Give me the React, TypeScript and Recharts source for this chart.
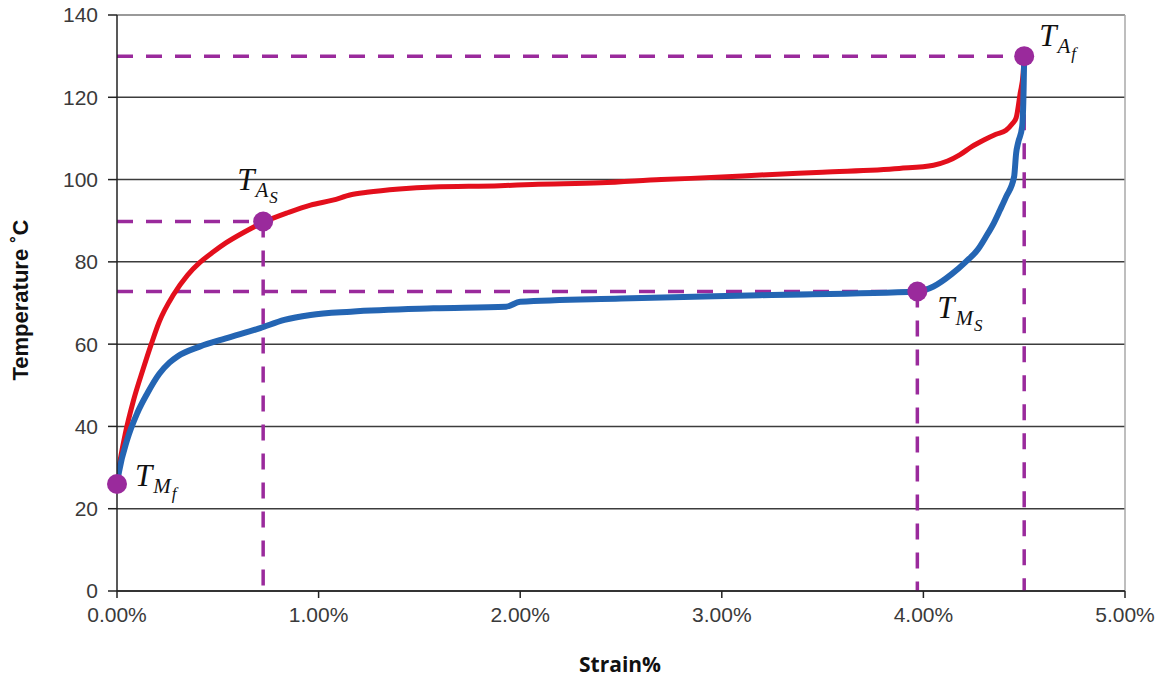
import React from 'react';
import {
  ComposedChart,
  Line,
  XAxis,
  YAxis,
  CartesianGrid,
  ReferenceLine,
  ReferenceDot,
} from 'recharts';

// Heating branch (austenite transformation), strain % vs temperature
const heatStrain = [
  0.0, 0.02, 0.04, 0.08, 0.13, 0.17, 0.21, 0.28, 0.35, 0.41, 0.48, 0.54, 0.63, 0.725, 0.85, 0.96, 1.07,
  1.16, 1.24, 1.4, 1.57, 1.9, 2.06, 2.4, 2.7, 3.0, 3.19, 3.5, 3.88, 4.05, 4.12, 4.18, 4.24, 4.3, 4.36,
  4.41, 4.44, 4.46, 4.48, 4.495, 4.5,
];
const heatTemp = [
  27, 33, 38, 46, 54, 60, 65.5, 72, 76.8, 79.8, 82.5, 84.6, 87.2, 89.6, 92, 93.8, 95,
  96.3, 96.9, 97.7, 98.2, 98.5, 98.8, 99.2, 100, 100.6, 101.1, 101.8, 102.7, 103.5, 104.5, 106, 108, 109.6, 111,
  112, 113.5, 115, 121, 126, 130,
];

// Cooling branch (martensite transformation)
const coolStrain = [
  0.0, 0.01, 0.05, 0.1, 0.15, 0.21, 0.26, 0.3, 0.41, 0.54, 0.71, 0.83, 0.96, 1.16, 1.57, 1.93, 2.0, 2.5, 3.19,
  3.97, 4.05, 4.14, 4.21, 4.27, 4.31, 4.35, 4.38, 4.41, 4.45, 4.46, 4.47, 4.49, 4.497, 4.5,
];
const coolTemp = [
  26, 29, 36.7, 43.2, 48, 52.8, 55.5, 57, 59.4, 61.4, 63.9, 65.9, 67.1, 67.9, 68.7, 69.1, 70.3, 71.1, 71.9,
  72.8, 74, 77, 80, 83, 86.1, 89.5, 92.6, 95.8, 100.7, 106.4, 109, 112.9, 121.8, 130,
];

// Transformation temperatures
const pointNames = ['Mf', 'As', 'Ms', 'Af'];
const pointMain = ['M', 'A', 'M', 'A'];
const pointSub = ['f', 'S', 'S', 'f'];
const pointStrain = [0.0, 0.725, 3.97, 4.5];
const pointTemp = [26, 89.8, 72.8, 130];

const yTicks = [0, 20, 40, 60, 80, 100, 120, 140];
const xTicks = [0, 1, 2, 3, 4, 5];

const heatData = heatStrain.map((s, i) => ({ strain: s, temp: heatTemp[i] }));
const coolData = coolStrain.map((s, i) => ({ strain: s, temp: coolTemp[i] }));

const PURPLE = '#9a2a9c';
const DASH = '16 13';

// label offsets from the dot (baseline of the "T")
const labelOffset: Record<string, [number, number]> = {
  Mf: [18, 2],
  As: [-26, -32],
  Ms: [20, 27],
  Af: [15, -10],
};

const tickStyle = { fontFamily: 'Liberation Sans, Arial, sans-serif', fontSize: 21, fill: '#3a3a3a' };

function TransitionDot(props: any) {
  const { cx, cy, name, main, sub } = props;
  const [dx, dy] = labelOffset[name];
  return (
    <g>
      <circle cx={cx} cy={cy} r={10} fill={PURPLE} />
      <text
        x={cx + dx}
        y={cy + dy}
        fontFamily="Liberation Serif, serif"
        fontStyle="italic"
        fontSize={31}
        fill="#111"
      >
        T
        <tspan fontSize={21} dx={1} dy={7}>
          {main}
        </tspan>
        <tspan fontSize={17} dx={1} dy={6}>
          {sub}
        </tspan>
      </text>
    </g>
  );
}

export default function App() {
  return (
    <div style={{ position: 'relative', width: 1164, height: 683, background: '#fff' }}>
      <style>{'body{margin:0;}'}</style>
      <ComposedChart width={1164} height={683} margin={{ top: 15, right: 39, left: 40, bottom: 32 }}>
        <CartesianGrid vertical={false} stroke="#3c3c3c" strokeWidth={1.5} />
        <XAxis
          type="number"
          dataKey="strain"
          domain={[0, 5]}
          ticks={xTicks}
          tickFormatter={(v: number) => `${v.toFixed(2)}%`}
          height={60}
          stroke="#222"
          strokeWidth={1.5}
          tickSize={7}
          tickMargin={9}
          tick={tickStyle}
          allowDataOverflow
        />
        <YAxis
          type="number"
          dataKey="temp"
          domain={[0, 140]}
          ticks={yTicks}
          width={77}
          stroke="#222"
          strokeWidth={1.5}
          tickSize={9}
          tickMargin={10}
          tick={tickStyle}
        />
        <ReferenceLine y={140} stroke="#a8a8a8" strokeWidth={1.5} />
        <ReferenceLine x={5} stroke="#a8a8a8" strokeWidth={1.5} />

        {pointNames.map((n, i) =>
          n === 'Mf' ? null : (
            <ReferenceLine
              key={`h-${n}`}
              segment={[
                { x: 0, y: pointTemp[i] },
                { x: pointStrain[i], y: pointTemp[i] },
              ]}
              stroke={PURPLE}
              strokeWidth={3.5}
              strokeDasharray={DASH}
            />
          )
        )}
        {pointNames.map((n, i) =>
          n === 'Mf' ? null : (
            <ReferenceLine
              key={`v-${n}`}
              segment={[
                { x: pointStrain[i], y: pointTemp[i] },
                { x: pointStrain[i], y: 0 },
              ]}
              stroke={PURPLE}
              strokeWidth={3.5}
              strokeDasharray={DASH}
            />
          )
        )}

        <Line
          data={heatData}
          dataKey="temp"
          type="monotoneX"
          stroke="#e30f1c"
          strokeWidth={5}
          dot={false}
          isAnimationActive={false}
        />
        <Line
          data={coolData}
          dataKey="temp"
          type="monotoneX"
          stroke="#2465b3"
          strokeWidth={6}
          dot={false}
          isAnimationActive={false}
        />

        {pointNames.map((n, i) => (
          <ReferenceDot
            key={`d-${n}`}
            x={pointStrain[i]}
            y={pointTemp[i]}
            r={10}
            shape={(p: any) => <TransitionDot {...p} name={n} main={pointMain[i]} sub={pointSub[i]} />}
          />
        ))}
      </ComposedChart>
      <div
        style={{
          position: 'absolute',
          left: 21,
          top: 300,
          transform: 'translate(-50%, -50%) rotate(-90deg)',
          whiteSpace: 'nowrap',
          fontFamily: 'Liberation Sans, Arial, sans-serif',
          fontWeight: 'bold',
          fontSize: 22,
          color: '#111',
        }}
      >
        Temperature ˚C
      </div>
      <div
        style={{
          position: 'absolute',
          left: 620,
          top: 664,
          transform: 'translate(-50%, -50%)',
          whiteSpace: 'nowrap',
          fontFamily: 'Open Sans, sans-serif',
          fontWeight: 'bold',
          fontSize: 21,
          color: '#111',
        }}
      >
        Strain%
      </div>
    </div>
  );
}
